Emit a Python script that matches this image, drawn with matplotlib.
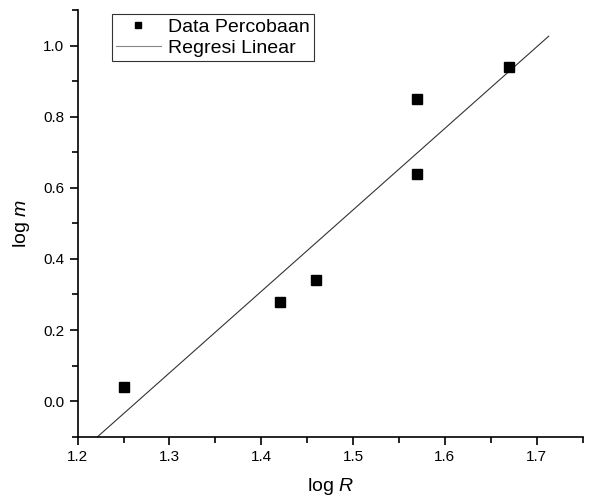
import matplotlib
matplotlib.use("Agg")
from matplotlib import pyplot as plt
from matplotlib.ticker import MultipleLocator
import numpy as np

# data
log_R = [1.25, 1.42, 1.46, 1.57, 1.57, 1.67]
log_m = [0.04, 0.28, 0.34, 0.85, 0.64, 0.94]
fit_x_range = [1.2, 1.713]

plt.rcParams['font.family'] = ['Liberation Sans', 'DejaVu Sans']
plt.rcParams['mathtext.fontset'] = 'custom'
plt.rcParams['mathtext.rm'] = 'Liberation Sans'
plt.rcParams['mathtext.it'] = 'Liberation Sans:italic'

fig = plt.figure(figsize=(5.97, 5.0), dpi=100)
ax = fig.add_axes([0.130, 0.1266, 0.846, 0.8534])

slope, intercept = np.polyfit(log_R, log_m, 1)
xf = np.linspace(fit_x_range[0], fit_x_range[1], 50)
ax.plot(xf, slope * xf + intercept, color='#333333', lw=0.8, label='Regresi Linear')
ax.plot(log_R, log_m, 's', color='black', ms=6.5, label='Data Percobaan')

ax.set_xlim(1.2, 1.75)
ax.set_ylim(-0.1, 1.1)
ax.xaxis.set_minor_locator(MultipleLocator(0.05))
ax.yaxis.set_minor_locator(MultipleLocator(0.1))
ax.set_xticks([1.2, 1.3, 1.4, 1.5, 1.6, 1.7])
ax.set_yticks([0.0, 0.2, 0.4, 0.6, 0.8, 1.0])

ax.spines['top'].set_visible(False)
ax.spines['right'].set_visible(False)
for s in ['left', 'bottom']:
    ax.spines[s].set_linewidth(1.2)
ax.tick_params(which='major', direction='out', length=6, width=1.2, labelsize=11)
ax.tick_params(which='minor', direction='out', length=4, width=1.2)

ax.set_xlabel('log $\\it{R}$', fontsize=14, labelpad=9)
ax.set_ylabel('log $\\it{m}$', fontsize=14, labelpad=8)

handles, labels = ax.get_legend_handles_labels()
leg = ax.legend(handles[::-1], labels[::-1], loc='upper left', bbox_to_anchor=(0.068, 0.99),
                fontsize=14, fancybox=False, edgecolor='#333333', framealpha=1,
                borderpad=0.2, handlelength=2.3, handletextpad=0.4,
                labelspacing=0.2, borderaxespad=0.0)
leg.get_frame().set_linewidth(0.8)
leg.legend_handles[0].set_markersize(5)
leg.legend_handles[1].set_color('#888888')

plt.savefig('out.png', dpi=100)
